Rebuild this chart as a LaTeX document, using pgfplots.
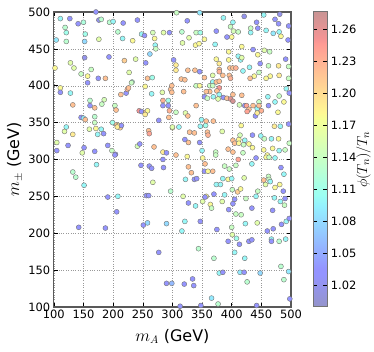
\documentclass[border=0pt]{standalone}
\usepackage{fontspec}
\setmainfont{DejaVu Sans}
\usepackage{pgfplots}
\usepackage{pgfplotstable}
\pgfplotsset{compat=1.18}

% jet colormap, washed out (alpha ~0.42 over white)
\pgfplotsset{colormap={pastjet}{
  rgb(0pt)=(0.58,0.58,0.79)
  rgb(11pt)=(0.58,0.58,1)
  rgb(13pt)=(0.58,0.58,1)
  rgb(34pt)=(0.58,0.94,1)
  rgb(38pt)=(0.61,1,0.95)
  rgb(50pt)=(0.78,1,0.78)
  rgb(64pt)=(0.97,1,0.59)
  rgb(66pt)=(1,0.97,0.58)
  rgb(89pt)=(1,0.61,0.58)
  rgb(91pt)=(0.96,0.58,0.58)
  rgb(100pt)=(0.79,0.58,0.58)
}}

\pgfplotstableread{
x y c
111 491 1.10
127 491 1.03
141 484 1.03
150 486 1.12
171 500 1.03
176 489 1.02
180 490 1.13
194 486 1.13
200 487 1.10
217 485 1.03
241 489 1.03
119 479 1.13
121 472 1.11
104 462 1.09
121 460 1.13
152 460 1.08
153 470 1.11
176 463 1.16
208 473 1.13
216 464 1.10
233 461 1.18
248 470 1.10
253 468 1.03
267 472 1.15
270 464 1.18
271 455 1.10
272 450 1.14
285 472 1.16
295 472 1.03
262 443 1.08
302 435 1.03
102 424 1.18
128 431 1.16
134 424 1.16
152 438 1.02
163 422 1.14
193 439 1.03
219 434 1.21
238 436 1.16
255 431 1.03
227 418 1.16
146 416 1.14
157 413 1.18
175 410 1.03
187 410 1.22
232 405 1.12
258 410 1.22
266 411 1.11
307 499 1.14
325 488 1.03
346 499 1.09
386 492 1.10
402 486 1.10
421 494 1.02
442 486 1.03
454 496 1.10
473 490 1.03
481 497 1.02
479 484 1.03
496 481 1.03
316 473 1.13
328 465 1.16
340 472 1.14
347 472 1.11
374 474 1.03
398 480 1.14
403 474 1.15
411 473 1.14
400 466 1.18
392 466 1.03
432 478 1.14
432 472 1.10
444 478 1.03
458 475 1.10
470 471 1.09
480 473 1.10
483 467 1.18
495 462 1.03
317 458 1.16
339 455 1.18
345 457 1.18
354 463 1.18
372 456 1.10
417 453 1.18
436 449 1.03
455 448 1.16
464 446 1.14
395 446 1.18
444 442 1.18
491 436 1.03
374 436 1.18
395 435 1.18
411 440 1.10
415 435 1.10
417 438 1.16
379 430 1.19
448 430 1.03
462 427 1.14
479 427 1.19
496 426 1.14
306 428 1.19
306 421 1.19
326 421 1.22
338 421 1.22
346 419 1.03
354 411 1.22
368 414 1.16
379 422 1.22
379 419 1.23
385 414 1.22
397 424 1.22
402 424 1.22
407 424 1.23
396 414 1.22
398 410 1.23
419 420 1.10
430 425 1.10
438 413 1.18
431 410 1.22
446 418 1.14
458 410 1.18
465 413 1.18
480 414 1.19
496 410 1.14
315 409 1.22
321 408 1.22
368 405 1.10
374 405 1.22
379 406 1.22
111 397 1.18
111 391 1.03
128 390 1.10
157 404 1.03
132 374 1.22
161 380 1.13
161 373 1.03
169 370 1.22
181 375 1.14
185 381 1.15
213 388 1.22
222 390 1.03
224 395 1.23
226 397 1.22
231 404 1.14
254 399 1.18
265 389 1.10
283 391 1.16
297 395 1.22
284 380 1.23
293 380 1.11
284 373 1.03
293 373 1.03
295 366 1.23
203 373 1.14
205 367 1.22
244 366 1.25
248 365 1.03
255 364 1.23
258 366 1.18
254 361 1.19
146 357 1.03
150 356 1.09
153 354 1.22
169 358 1.13
169 350 1.14
199 350 1.11
206 347 1.22
209 346 1.19
212 343 1.21
214 346 1.03
207 344 1.19
121 344 1.10
118 338 1.16
132 334 1.19
160 341 1.16
171 342 1.18
180 341 1.10
174 334 1.10
184 335 1.03
260 339 1.22
261 335 1.24
277 353 1.03
294 357 1.22
300 343 1.18
105 323 1.16
124 319 1.03
151 316 1.03
169 311 1.03
148 309 1.16
191 319 1.03
198 312 1.14
204 307 1.03
241 318 1.15
245 321 1.03
269 317 1.22
284 310 1.19
290 309 1.03
105 312 1.03
299 400 1.22
299 391 1.22
319 392 1.22
340 400 1.14
346 400 1.18
363 400 1.14
368 400 1.14
379 397 1.25
375 393 1.22
363 392 1.22
357 392 1.22
379 388 1.10
354 385 1.03
359 383 1.14
369 385 1.10
377 382 1.16
386 384 1.03
392 383 1.22
398 382 1.26
402 379 1.27
402 388 1.22
417 387 1.22
413 374 1.15
422 373 1.03
425 373 1.24
429 368 1.22
426 365 1.24
436 373 1.22
443 369 1.10
446 378 1.14
446 373 1.22
450 366 1.23
440 359 1.03
443 363 1.19
461 385 1.10
462 373 1.03
473 378 1.10
480 386 1.14
478 364 1.18
492 396 1.10
497 390 1.03
488 378 1.18
340 373 1.22
306 364 1.14
322 363 1.16
326 359 1.22
349 354 1.10
357 352 1.22
369 352 1.22
356 346 1.11
347 345 1.10
300 344 1.16
311 344 1.10
329 337 1.22
337 336 1.22
359 337 1.22
360 333 1.23
384 338 1.16
416 346 1.18
414 333 1.15
435 333 1.03
449 332 1.10
472 345 1.19
482 345 1.10
496 348 1.03
321 327 1.03
327 323 1.22
346 323 1.03
402 326 1.22
412 327 1.18
405 322 1.22
412 322 1.18
422 326 1.10
429 321 1.18
420 320 1.14
455 328 1.14
467 328 1.10
479 328 1.18
497 322 1.14
350 312 1.10
373 310 1.14
394 314 1.22
402 310 1.22
419 309 1.14
435 316 1.18
454 313 1.18
469 315 1.18
480 312 1.10
490 313 1.14
306 306 1.22
325 304 1.18
460 306 1.18
203 306 1.03
172 293 1.10
132 283 1.13
137 276 1.13
151 265 1.10
247 292 1.03
261 291 1.03
265 288 1.03
284 300 1.03
285 289 1.03
267 269 1.16
297 257 1.13
191 249 1.03
208 250 1.10
256 251 1.03
260 251 1.03
206 229 1.03
142 208 1.03
187 207 1.03
251 211 1.03
258 214 1.08
290 213 1.08
351 302 1.18
373 306 1.14
411 300 1.24
441 302 1.03
458 303 1.18
463 303 1.14
473 302 1.10
327 290 1.22
332 282 1.22
354 284 1.03
360 284 1.18
368 284 1.22
355 294 1.22
388 291 1.14
396 287 1.14
407 292 1.14
434 294 1.10
322 273 1.10
337 273 1.03
341 274 1.03
385 274 1.10
394 273 1.18
400 274 1.10
421 275 1.16
374 266 1.10
381 266 1.10
401 259 1.14
410 256 1.21
415 260 1.18
444 257 1.14
454 272 1.22
462 277 1.14
463 273 1.14
465 270 1.10
488 280 1.10
483 289 1.03
457 266 1.16
473 262 1.18
481 266 1.18
487 257 1.03
318 250 1.16
357 250 1.18
355 249 1.03
370 253 1.03
388 252 1.10
405 246 1.03
424 247 1.14
441 250 1.10
351 243 1.16
364 239 1.18
384 243 1.16
402 240 1.03
327 241 1.03
339 237 1.10
366 234 1.14
472 248 1.10
482 243 1.10
489 238 1.14
490 247 1.03
395 232 1.03
407 226 1.14
416 225 1.14
434 234 1.03
469 231 1.03
321 216 1.10
347 216 1.03
375 205 1.03
400 208 1.14
423 213 1.10
443 214 1.16
470 206 1.03
484 212 1.03
492 216 1.10
316 203 1.10
460 203 1.03
497 220 1.03
277 174 1.03
290 132 1.03
299 132 1.06
401 198 1.16
408 193 1.11
394 189 1.03
413 185 1.03
429 189 1.03
434 191 1.03
467 192 1.10
467 189 1.03
480 189 1.13
491 192 1.10
344 179 1.13
370 166 1.13
405 174 1.10
422 166 1.10
483 155 1.13
496 148 1.09
488 137 1.13
379 146 1.10
385 147 1.03
414 147 1.09
421 147 1.03
448 146 1.08
426 134 1.13
320 131 1.03
334 138 1.03
336 129 1.03
366 112 1.09
377 104 1.13
313 101 1.03
348 102 1.03
442 102 1.03
498 111 1.03
}\pts

\begin{document}
\begin{tikzpicture}
\begin{axis}[
  name=main,
  scale only axis,
  width=238pt, height=296pt,
  xmin=100, xmax=500, ymin=100, ymax=500,
  xtick={100,150,...,500},
  ytick={100,150,...,500},
  grid=major,
  grid style={dotted, gray!80},
  axis line style={black!65, line width=1.1pt},
  tick align=inside,
  major tick length=4pt,
  tick style={black, line width=0.5pt},
  ticklabel style={font=\fontsize{11.5}{12}\selectfont},
  /pgf/number format/assume math mode=true,
  xlabel={$m_A$ (GeV)},
  ylabel={$m_\pm$ (GeV)},
  label style={font=\fontsize{16}{17}\selectfont},
  xlabel style={yshift=-3pt},
  ylabel style={yshift=-1pt},
  colormap name=pastjet,
  point meta min=1.0, point meta max=1.276,
  colorbar,
  colorbar style={
    at={(parent axis.north east)}, anchor=north west, xshift=14pt,
    width=14pt,
    axis line style={black!55, line width=1pt},
    ytick={1.02,1.05,1.08,1.11,1.14,1.17,1.20,1.23,1.26},
    yticklabel style={font=\fontsize{11.5}{12}\selectfont,
      /pgf/number format/.cd, fixed, fixed zerofill, precision=2, assume math mode=true},
    tick align=inside,
    major tick length=4pt,
    ylabel={$\phi(T_n)/T_n$},
    ylabel shift=-7pt,
    ylabel style={font=\fontsize{15}{16}\selectfont},
  },
]
\addplot[scatter, only marks, mark=*, mark size=2.5pt, point meta=explicit,
  scatter/use mapped color={draw=black!55, fill=mapped color, line width=0.4pt}]
  table[x=x, y=y, meta=c] {\pts};
\end{axis}
\path ([xshift=-54pt,yshift=12pt]main.north west) rectangle ([xshift=82pt,yshift=-45pt]main.south east);
\end{tikzpicture}
\end{document}
